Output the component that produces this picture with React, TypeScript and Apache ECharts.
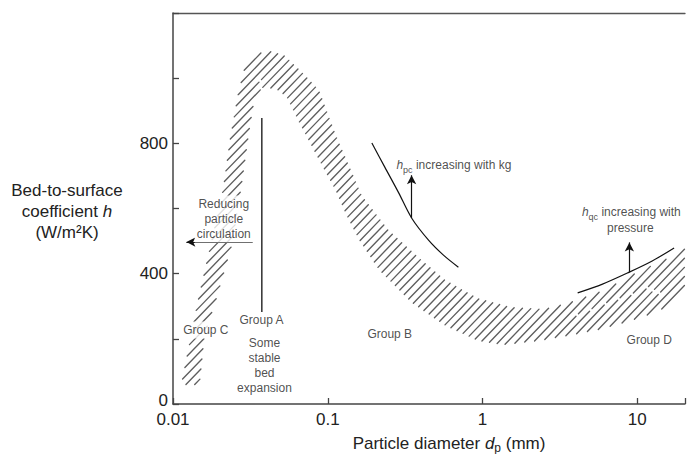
import React, { useEffect, useRef } from "react";
import * as echarts from "echarts";

// Axis ticks
const xTickValues = [0.01, 0.1, 1, 10];
const xTickLabels = ["0.01", "0.1", "1", "10"];
const yLabelValues = [0, 400, 800];

// Hatched band: outer edge (from bottom of Group C side, over the peak, to the right)
const bandOuterX = [0.01125, 0.01286, 0.01447, 0.01729, 0.02096, 0.02324, 0.02616, 0.02901, 0.03364, 0.04076, 0.05243, 0.06841, 0.088, 0.1131, 0.1662, 0.2477, 0.3862, 0.5756, 0.9378, 1.528, 2.526, 3.711, 6.138, 10, 16.29, 20.33];
const bandOuterH = [58, 196, 319, 479, 657, 810, 948, 1034, 1071, 1086, 1071, 1019, 964, 826, 641, 534, 451, 381, 325, 298, 292, 313, 350, 405, 451, 479];
// Hatched band: inner edge (from the right back to the bottom of Group C side)
const bandInnerX = [20.33, 13.43, 8.625, 5.534, 3.55, 2.278, 1.357, 0.9378, 0.5756, 0.348, 0.2137, 0.159, 0.1312, 0.1131, 0.0841, 0.0654, 0.054, 0.0452, 0.0378, 0.03364, 0.03124, 0.02773, 0.02428, 0.01918, 0.01605, 0.01491];
const bandInnerH = [335, 282, 252, 227, 209, 193, 181, 193, 239, 310, 411, 503, 580, 651, 764, 862, 942, 970, 964, 933, 841, 666, 494, 325, 212, 58];

// h_pc curve
const pcX = [0.1927, 0.2336, 0.2873, 0.348, 0.4477, 0.559, 0.6981];
const pcH = [801, 727, 648, 571, 503, 457, 420];
// h_qc curve
const qcX = [4.117, 5.957, 8.625, 12.48, 17.29];
const qcH = [341, 368, 402, 439, 479];

// Group A boundary line
const groupAX = [0.0375, 0.0375];
const groupAH = [282, 878];

// Arrows [x1, h1, x2, h2]
const arrowReducing = [0.0327, 497, 0.0122, 497];
const arrowPc = [0.348, 571, 0.348, 702];
const arrowQc = [8.885, 404, 8.885, 496];

// Annotation labels
const noteTexts = [
  "Reducing\nparticle\ncirculation",
  "Group C",
  "Group A",
  "Some\nstable\nbed\nexpansion",
  "Group B",
  "Group D",
  "{i|h}{sub|pc}{t| increasing with kg}",
  "{i|h}{sub|qc}{t| increasing with}",
  "pressure",
];
const noteX = [0.02127, 0.0163, 0.0373, 0.039, 0.2515, 11.94, 0.6528, 9.15, 9.016];
const noteH = [568, 227, 258, 117, 215, 196, 735, 588, 540];
const noteWhiteBg = [true, true, false, false, false, false, false, false, false];

const HATCH_ANGLE = 46;
const HATCH_SPACING = 6.3;

export default function App() {
  const ref = useRef<HTMLDivElement>(null);
  useEffect(() => {
    if (!ref.current) return;
    const chart = echarts.init(ref.current, undefined, { renderer: "svg" });
    const font = "Liberation Sans, Arial, sans-serif";

    const renderBand = (params: any, api: any) => {
      const poly: number[][] = [];
      for (let i = 0; i < bandOuterX.length; i++) poly.push(api.coord([bandOuterX[i], bandOuterH[i]]));
      for (let i = 0; i < bandInnerX.length; i++) poly.push(api.coord([bandInnerX[i], bandInnerH[i]]));
      const th = (HATCH_ANGLE * Math.PI) / 180;
      const d = [Math.cos(th), -Math.sin(th)];
      const n = [Math.sin(th), Math.cos(th)];
      const proj = poly.map((p) => p[0] * n[0] + p[1] * n[1]);
      const cmin = Math.min(...proj);
      const cmax = Math.max(...proj);
      const children: any[] = [];
      for (let c = cmin + HATCH_SPACING / 2; c < cmax; c += HATCH_SPACING) {
        const us: number[] = [];
        for (let k = 0; k < poly.length; k++) {
          const k2 = (k + 1) % poly.length;
          const a = poly[k];
          const b = poly[k2];
          const da = proj[k] - c;
          const db = proj[k2] - c;
          if (da > 0 !== db > 0) {
            const t = da / (da - db);
            const px = a[0] + t * (b[0] - a[0]);
            const py = a[1] + t * (b[1] - a[1]);
            us.push(px * d[0] + py * d[1]);
          }
        }
        us.sort((a, b) => a - b);
        for (let k = 0; k + 1 < us.length; k += 2) {
          const u0 = us[k] + 0.8;
          const u1 = us[k + 1] - 0.8;
          const len = u1 - u0;
          if (len < 2) continue;
          const pieces = Math.max(1, Math.ceil(len / 60));
          const gap = 3.5;
          const pl = (len - gap * (pieces - 1)) / pieces;
          for (let m = 0; m < pieces; m++) {
            const s0 = u0 + m * (pl + gap);
            const s1 = s0 + pl;
            children.push({
              type: "line",
              shape: {
                x1: c * n[0] + s0 * d[0],
                y1: c * n[1] + s0 * d[1],
                x2: c * n[0] + s1 * d[0],
                y2: c * n[1] + s1 * d[1],
              },
              style: { stroke: "#5e5e5e", lineWidth: 1.35, lineCap: "round" },
            });
          }
        }
      }
      return { type: "group", children };
    };

    const arrowLine = (a: number[]) => [{ coord: [a[0], a[1]] }, { coord: [a[2], a[3]] }];

    const richNote = {
      t: { fontSize: 12, lineHeight: 15, fontFamily: font, color: "#222", verticalAlign: "middle" },
      i: { fontSize: 12, lineHeight: 15, fontFamily: font, color: "#222", fontStyle: "italic", verticalAlign: "middle" },
      sub: { fontSize: 9, lineHeight: 9, fontFamily: font, color: "#222", padding: [10, 0, 0, 0], verticalAlign: "middle" },
    };

    const option: any = {
      animation: false,
      grid: { left: 173, right: 0, top: 13, bottom: 50, containLabel: false },
      xAxis: [
        {
          type: "log",
          logBase: 10,
          min: 0.01,
          max: 20.33,
          axisLine: { show: true, lineStyle: { color: "#444", width: 1.5 } },
          axisTick: { show: true, inside: true, length: 6, lineStyle: { color: "#444", width: 1.3 } },
          splitLine: { show: false },
          minorTick: { show: false },
          axisLabel: {
            margin: 8,
            fontSize: 17,
            lineHeight: 15,
            fontFamily: font,
            color: "#222",
            formatter: (v: number) => {
              for (let i = 0; i < xTickValues.length; i++) {
                if (Math.abs(Math.log10(v) - Math.log10(xTickValues[i])) < 1e-6) return xTickLabels[i];
              }
              return "";
            },
          },
        },
        {
          type: "log",
          logBase: 10,
          min: 0.01,
          max: 20.33,
          position: "top",
          axisLine: { show: true, lineStyle: { color: "#555", width: 1.3 } },
          axisTick: { show: false },
          axisLabel: { show: false },
          splitLine: { show: false },
        },
      ],
      yAxis: {
        type: "value",
        min: 0,
        max: 1200,
        interval: 200,
        axisLine: { show: true, lineStyle: { color: "#444", width: 1.5 } },
        axisTick: { show: true, inside: true, length: 6, lineStyle: { color: "#444", width: 1.3 } },
        splitLine: { show: false },
        axisLabel: {
          margin: 5,
          fontSize: 17,
          lineHeight: 15,
          fontFamily: font,
          color: "#222",
          formatter: (v: number) =>
            v === 0 ? "{z|0}" : yLabelValues.indexOf(v) >= 0 ? String(v) : "",
          rich: {
            z: { fontSize: 17, lineHeight: 15, fontFamily: font, color: "#222", padding: [0, 0, 7, 0] },
          },
        },
      },
      series: [
        {
          type: "custom",
          silent: true,
          renderItem: renderBand,
          data: [[1, 500]],
          encode: { x: 0, y: 1 },
          z: 1,
        },
        {
          type: "line",
          silent: true,
          smooth: 0.3,
          showSymbol: false,
          symbol: "none",
          data: pcX.map((x, i) => [x, pcH[i]]),
          lineStyle: { color: "#111", width: 1.2 },
          z: 3,
        },
        {
          type: "line",
          silent: true,
          smooth: 0.3,
          showSymbol: false,
          symbol: "none",
          data: qcX.map((x, i) => [x, qcH[i]]),
          lineStyle: { color: "#111", width: 1.2 },
          z: 3,
        },
        {
          type: "line",
          silent: true,
          showSymbol: false,
          symbol: "none",
          data: groupAX.map((x, i) => [x, groupAH[i]]),
          lineStyle: { color: "#111", width: 1.3 },
          z: 3,
          markLine: {
            silent: true,
            symbol: ["none", "arrow"],
            symbolSize: [7, 9],
            label: { show: false },
            lineStyle: { color: "#111", width: 1.2, type: "solid" },
            emphasis: { disabled: true },
            data: [arrowLine(arrowReducing), arrowLine(arrowPc), arrowLine(arrowQc)],
          },
        },
        {
          type: "scatter",
          silent: true,
          symbolSize: 1,
          itemStyle: { color: "rgba(0,0,0,0)" },
          z: 5,
          data: noteTexts.map((txt, i) => ({
            value: [noteX[i], noteH[i]],
            label: {
              show: true,
              position: "inside",
              formatter: txt,
              fontSize: 12,
              lineHeight: 15,
              fontFamily: font,
              color: "#222",
              align: "center",
              backgroundColor: noteWhiteBg[i] ? "#fff" : "transparent",
              padding: noteWhiteBg[i] ? [1, 2] : 0,
              rich: richNote,
            },
          })),
        },
      ],
      graphic: [
        {
          type: "text",
          x: 67,
          y: 211,
          silent: true,
          style: {
            text: "{t|Bed-to-surface}\n{t|coefficient }{i|h}\n{t|(W/m²K)}",
            align: "center",
            verticalAlign: "middle",
            rich: {
              t: { fontSize: 17, lineHeight: 21, fontFamily: font, fill: "#222" },
              i: { fontSize: 17, lineHeight: 21, fontFamily: font, fill: "#222", fontStyle: "italic" },
            },
          },
        },
        {
          type: "text",
          x: 449,
          y: 443,
          silent: true,
          style: {
            text: "{t|Particle diameter }{i|d}{sub|p}{t| (mm)}",
            align: "center",
            verticalAlign: "middle",
            rich: {
              t: { fontSize: 17, lineHeight: 19, fontFamily: font, fill: "#222", verticalAlign: "middle" },
              i: { fontSize: 17, lineHeight: 19, fontFamily: font, fill: "#222", fontStyle: "italic", verticalAlign: "middle" },
              sub: { fontSize: 12, lineHeight: 12, fontFamily: font, fill: "#222", padding: [9, 0, 0, 0], verticalAlign: "middle" },
            },
          },
        },
      ],
    };
    chart.setOption(option);
    return () => chart.dispose();
  }, []);
  return (
    <div
      ref={ref}
      style={{ position: "absolute", left: 0, top: 0, width: 688, height: 454, background: "#fff" }}
    />
  );
}
